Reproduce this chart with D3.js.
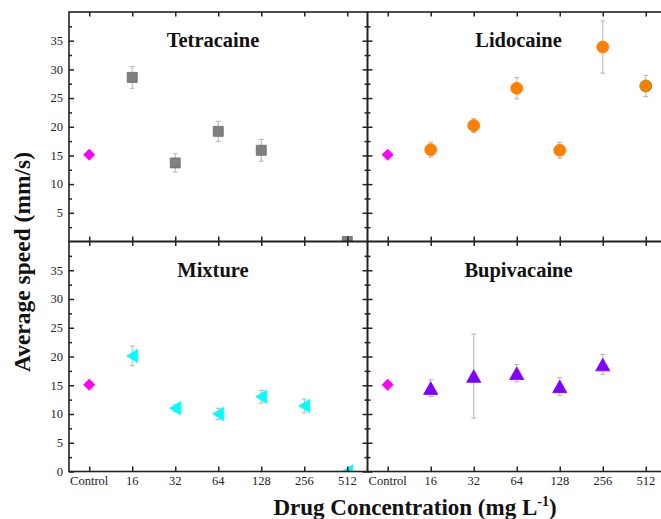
<!DOCTYPE html>
<html>
<head>
<meta charset="utf-8">
<script src="https://cdn.jsdelivr.net/npm/d3@7"></script>
<style>
  html, body { margin: 0; padding: 0; background: #fff; overflow: hidden; }
  svg { display: block; }
</style>
</head>
<body>
<svg id="chart" width="661" height="519"></svg>
<script>
// Concentration categories (mg/L) shared by all four panels
const categories = ["Control", "16", "32", "64", "128", "256", "512"];

// Control group speed (mm/s), shown in every panel
const controlSpeed = 15.1;

// Mean speed (mm/s) and standard deviation per concentration (index 0 = Control slot, unused)
const tetracaineMean = [null, 28.6, 13.7, 19.2, 15.9, null, 0];
const tetracaineSD   = [null, 1.9, 1.6, 1.75, 1.9, null, 0];

const lidocaineMean = [null, 16.0, 20.2, 26.7, 15.9, 33.9, 27.1];
const lidocaineSD   = [null, 1.3, 1.2, 1.85, 1.4, 4.55, 1.85];

const mixtureMean = [null, 20.1, 11.0, 10.0, 13.0, 11.4, 0];
const mixtureSD   = [null, 1.7, 0.6, 1.0, 1.1, 1.2, 0];

const bupivacaineMean = [null, 14.5, 16.6, 17.1, 14.8, 18.6, null];
const bupivacaineSD   = [null, 1.45, 7.3, 1.5, 1.55, 1.75, null];

// Y axis
const yDomain = [0, 40];
const yMajorTicks = [5, 10, 15, 20, 25, 30, 35];
const yMajorTicksBottom = [0, 5, 10, 15, 20, 25, 30, 35];
const yMinorTicks = [2.5, 7.5, 12.5, 17.5, 22.5, 27.5, 32.5, 37.5];

const panels = [
  { title: "Tetracaine",  mean: tetracaineMean,  sd: tetracaineSD,  col: 0, row: 0, shape: "square",   color: "#808080", edge: "#6a6a6a" },
  { title: "Lidocaine",   mean: lidocaineMean,   sd: lidocaineSD,   col: 1, row: 0, shape: "circle",   color: "#ff8000", edge: "#ff8000" },
  { title: "Mixture",     mean: mixtureMean,     sd: mixtureSD,     col: 0, row: 1, shape: "triLeft",  color: "#00ffff", edge: "#00ffff" },
  { title: "Bupivacaine", mean: bupivacaineMean, sd: bupivacaineSD, col: 1, row: 1, shape: "triUp",    color: "#8000ff", edge: "#8000ff" }
];

// Layout of the 2 x 2 grid
const gridLeft = 69, gridTop = 12;
const panelW = 298.5;
const panelH = [229.5, 230];
const colX = [gridLeft, gridLeft + panelW];
const rowY = [gridTop, gridTop + panelH[0]];

const serif = '"Liberation Serif"';
const svg = d3.select("#chart");
const axisColor = "#222";

const x = d3.scalePoint().domain(categories).range([0, panelW]).padding(0.47);

const shapes = {
  square:  "M-5,-5L5,-5L5,5L-5,5Z",
  circle:  d3.symbol().type(d3.symbolCircle).size(Math.PI * 36)(),
  diamond: "M0,-6L6,0L0,6L-6,0Z",
  triLeft: "M-5.5,0L5.5,-6.7L5.5,6.7Z",
  triUp:   "M0,-6.3L7.1,6.3L-7.1,6.3Z"
};

const defs = svg.append("defs");

panels.forEach((p, i) => {
  const h = panelH[p.row];
  const y = d3.scaleLinear().domain(yDomain).range([h, 0]);
  const g = svg.append("g").attr("transform", `translate(${colX[p.col]},${rowY[p.row]})`);

  defs.append("clipPath").attr("id", "clip" + i)
    .append("rect").attr("x", 0).attr("y", 0).attr("width", panelW).attr("height", h);

  const plot = g.append("g").attr("clip-path", `url(#clip${i})`);

  // error bars
  const pts = categories.map((c, k) => ({ c, v: p.mean[k], s: p.sd[k] }))
    .filter(d => d.v !== null);
  const eb = plot.append("g").attr("stroke", "#b4b4b4").attr("stroke-width", 1).attr("fill", "none");
  pts.filter(d => d.s > 0).forEach(d => {
    const cx = x(d.c);
    const y1 = y(d.v + d.s), y2 = y(d.v - d.s);
    eb.append("line").attr("x1", cx).attr("x2", cx).attr("y1", y1).attr("y2", y2);
    eb.append("line").attr("x1", cx - 2.5).attr("x2", cx + 2.5).attr("y1", y1).attr("y2", y1);
    eb.append("line").attr("x1", cx - 2.5).attr("x2", cx + 2.5).attr("y1", y2).attr("y2", y2);
  });

  // control marker
  plot.append("path")
    .attr("d", shapes.diamond)
    .attr("transform", `translate(${x("Control")},${y(controlSpeed)})`)
    .attr("fill", "#ff00ff");

  // treatment markers
  plot.selectAll("path.pt").data(pts).join("path")
    .attr("class", "pt")
    .attr("d", shapes[p.shape])
    .attr("transform", d => `translate(${x(d.c)},${y(d.v)})`)
    .attr("fill", p.color)
    .attr("stroke", d => (p.shape === "circle" && d.c === "512") ? "#8a8a1a" : p.edge)
    .attr("stroke-width", 0.8);

  // frame
  g.append("rect").attr("x", 0).attr("y", 0).attr("width", panelW).attr("height", h)
    .attr("fill", "none").attr("stroke", axisColor).attr("stroke-width", 1.6);

  // x ticks (inward, top and bottom)
  const xAxisBottom = d3.axisBottom(x).tickSize(-5).tickSizeOuter(0).tickFormat("");
  const xAxisTop = d3.axisTop(x).tickSize(-4.5).tickSizeOuter(0).tickFormat("");
  const gxb = g.append("g").attr("transform", `translate(0,${h})`).call(xAxisBottom);
  const gxt = g.append("g").call(xAxisTop);
  [gxb, gxt].forEach(a => {
    a.select(".domain").remove();
    a.selectAll("line").attr("stroke", axisColor).attr("stroke-width", 1.5);
  });

  // y ticks (inward, left and right)
  const majors = p.row === 1 ? yMajorTicksBottom : yMajorTicks;
  const yl = g.append("g").call(d3.axisLeft(y).tickValues(majors).tickSize(-5).tickSizeOuter(0).tickFormat(""));
  const ylm = g.append("g").call(d3.axisLeft(y).tickValues(yMinorTicks).tickSize(-3).tickSizeOuter(0).tickFormat(""));
  const yr = g.append("g").attr("transform", `translate(${panelW},0)`)
    .call(d3.axisRight(y).tickValues(majors).tickSize(-5).tickSizeOuter(0).tickFormat(""));
  const yrm = g.append("g").attr("transform", `translate(${panelW},0)`)
    .call(d3.axisRight(y).tickValues(yMinorTicks).tickSize(-3).tickSizeOuter(0).tickFormat(""));
  [yl, ylm, yr, yrm].forEach(a => {
    a.select(".domain").remove();
    a.selectAll("line").attr("stroke", axisColor).attr("stroke-width", 1.5);
  });

  // y tick labels on the left column
  if (p.col === 0) {
    g.append("g").selectAll("text").data(majors).join("text")
      .attr("x", -6).attr("y", d => y(d)).attr("dy", "0.34em")
      .attr("text-anchor", "end").attr("font-size", 12.5)
      .style("font-family", serif).attr("fill", "#222")
      .text(d => d);
  }

  // category labels on the bottom row
  if (p.row === 1) {
    g.append("g").selectAll("text").data(categories).join("text")
      .attr("x", d => x(d)).attr("y", h + 13.5)
      .attr("text-anchor", "middle").attr("font-size", 12.5)
      .style("font-family", serif).attr("fill", "#222")
      .text(d => d);
  }

  // panel title
  g.append("text")
    .attr("x", p.col === 0 ? 144 : 151).attr("y", 35)
    .attr("text-anchor", "middle")
    .style("font-family", serif)
    .attr("font-size", 20.5).attr("font-weight", "bold").attr("fill", "#111")
    .text(p.title);
});

// axis titles
svg.append("text")
  .attr("transform", "translate(30,262) rotate(-90)")
  .attr("text-anchor", "middle")
  .style("font-family", serif)
  .attr("font-size", 23.5).attr("font-weight", "bold").attr("fill", "#111")
  .text("Average speed (mm/s)");

const xt = svg.append("text")
  .attr("x", 415).attr("y", 515)
  .attr("text-anchor", "middle")
  .style("font-family", serif)
  .attr("font-size", 23).attr("font-weight", "bold").attr("fill", "#111");
xt.append("tspan").text("Drug Concentration (mg L");
xt.append("tspan").attr("dy", -9).attr("font-size", 14).text("-1");
xt.append("tspan").attr("dy", 9).text(")");
</script>
</body>
</html>
